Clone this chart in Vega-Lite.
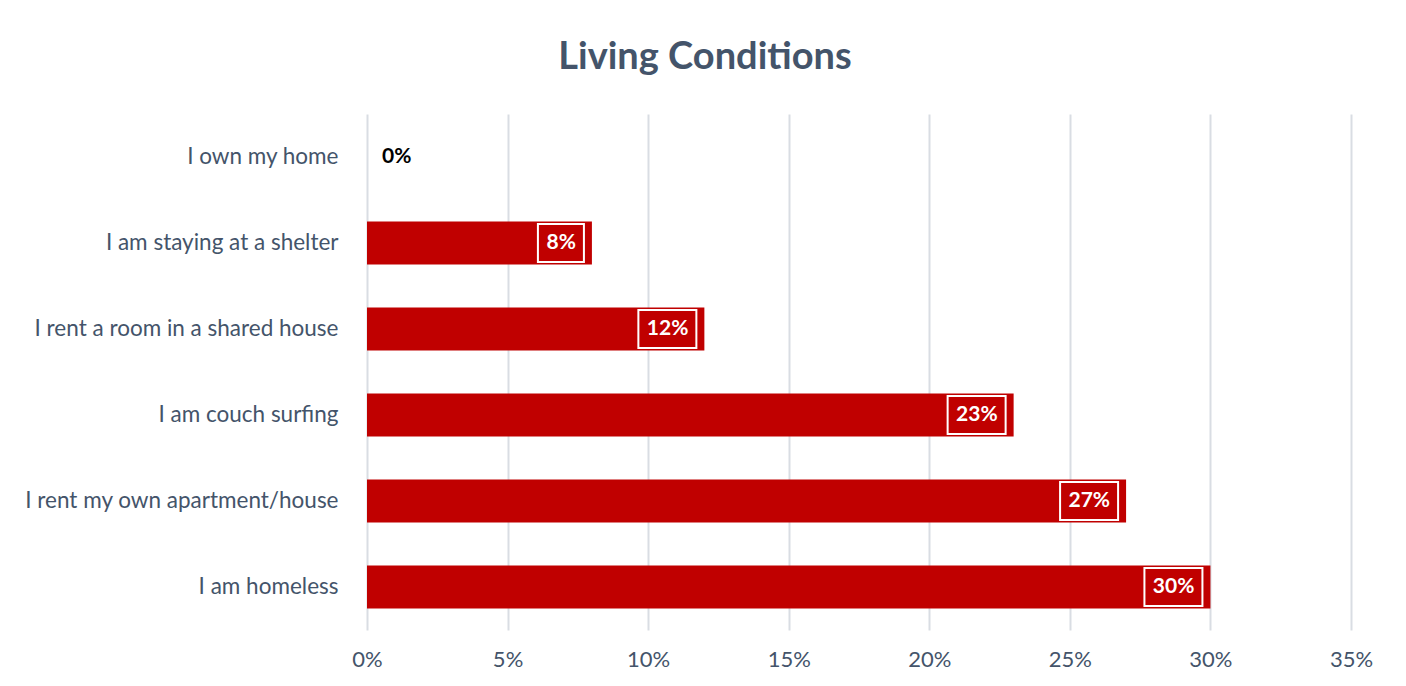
{
  "$schema": "https://vega.github.io/schema/vega-lite/v6.json",
  "autosize": "none",
  "width": 984,
  "height": 516,
  "padding": {"left": 367, "top": 114, "right": 55, "bottom": 56},
  "background": "white",
  "title": {
    "text": "Living Conditions",
    "anchor": "middle",
    "frame": "group",
    "dx": -154,
    "offset": 37,
    "font": "Lato",
    "fontSize": 38,
    "fontWeight": "bold",
    "color": "#44546A"
  },
  "data": {
    "values": [
      {"category": "I own my home", "pct": 0.0},
      {"category": "I am staying at a shelter", "pct": 0.08},
      {"category": "I rent a room in a shared house", "pct": 0.12},
      {"category": "I am couch surfing", "pct": 0.23},
      {"category": "I rent my own apartment/house", "pct": 0.27},
      {"category": "I am homeless", "pct": 0.30}
    ]
  },
  "encoding": {
    "y": {
      "field": "category",
      "type": "nominal",
      "sort": null,
      "title": null,
      "scale": {"paddingInner": 0.5, "paddingOuter": 0.25},
      "axis": {
        "domain": false,
        "ticks": false,
        "grid": false,
        "labelFont": "Lato",
        "labelFontSize": 22.5,
        "labelColor": "#44546A",
        "labelPadding": 29,
        "labelLimit": 400
      }
    },
    "x": {
      "field": "pct",
      "type": "quantitative",
      "title": null,
      "scale": {"domain": [0, 0.35], "nice": false},
      "axis": {
        "format": ".0%",
        "values": [0, 0.05, 0.1, 0.15, 0.2, 0.25, 0.3, 0.35],
        "domain": false,
        "ticks": false,
        "grid": true,
        "gridColor": "#D9DDE3",
        "gridWidth": 2,
        "labelFont": "Lato",
        "labelFontSize": 22,
        "labelColor": "#44546A",
        "labelPadding": 19,
        "labelFlush": false,
        "labelOverlap": false
      }
    }
  },
  "layer": [
    {
      "mark": {"type": "bar", "color": "#C00000"}
    },
    {
      "transform": [{"filter": "datum.pct > 0"}],
      "mark": {
        "type": "point",
        "filled": false,
        "stroke": "white",
        "strokeWidth": 2,
        "opacity": 1,
        "size": 4
      },
      "encoding": {
        "shape": {
          "condition": {"test": "datum.pct < 0.1", "value": "M-8,-19H-54V19H-8Z"},
          "value": "M-8,-19H-66V19H-8Z"
        }
      }
    },
    {
      "transform": [{"filter": "datum.pct > 0"}],
      "mark": {
        "type": "text",
        "align": "right",
        "baseline": "middle",
        "dx": -16,
        "font": "Lato",
        "fontSize": 21,
        "fontWeight": "bold",
        "color": "white"
      },
      "encoding": {
        "text": {"field": "pct", "type": "quantitative", "format": ".0%"}
      }
    },
    {
      "transform": [{"filter": "datum.pct == 0"}],
      "mark": {
        "type": "text",
        "align": "left",
        "baseline": "middle",
        "dx": 15,
        "font": "Lato",
        "fontSize": 21,
        "fontWeight": "bold",
        "color": "black"
      },
      "encoding": {
        "text": {"field": "pct", "type": "quantitative", "format": ".0%"}
      }
    }
  ],
  "config": {"view": {"stroke": null}}
}
